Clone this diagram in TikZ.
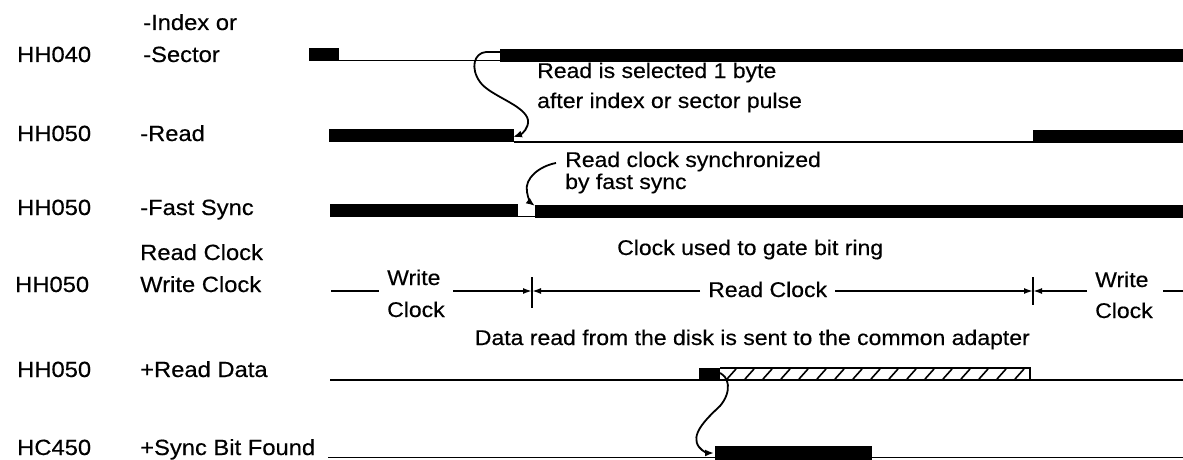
\documentclass[tikz,border=0pt]{standalone}
\usepackage{fontspec}
\setmainfont[FakeStretch=1.08,FakeBold=0.4]{Liberation Sans}
\usetikzlibrary{arrows.meta}
\begin{document}
\begin{tikzpicture}[x=1pt,y=-1pt,
  lbl/.style={anchor=base west,inner sep=0pt,font=\fontsize{22}{26}\selectfont},
  ann/.style={anchor=base west,inner sep=0pt,font=\fontsize{21.3}{25}\selectfont},
  sig/.style={line width=1.6pt},
  tickmark/.style={line width=2.2pt},
  curvearrow/.style={line width=1.8pt,-{Latex[length=9pt,width=7pt]}},
  clockarrow/.style={line width=1.6pt,-{Latex[length=9pt,width=6pt]}},
  hatchline/.style={line width=1.6pt}
]
\useasboundingbox (0,0) rectangle (1183,460);

% labels
\node[lbl] (c1) at (17,62) {HH040};
\node[lbl] (s1a) at (143,30) {-Index or};
\node[lbl] (s1b) at (143,62) {-Sector};
\node[lbl] (c2) at (17,141) {HH050};
\node[lbl] (s2) at (140,141) {-Read};
\node[lbl] (c3) at (17,215) {HH050};
\node[lbl] (s3) at (140,215) {-Fast Sync};
\node[lbl] (s4a) at (140,260) {Read Clock};
\node[lbl] (c4) at (15,292) {HH050};
\node[lbl] (s4b) at (140,292) {Write Clock};
\node[lbl] (c5) at (17,377) {HH050};
\node[lbl] (s5) at (140,377) {+Read Data};
\node[lbl] (c6) at (17,455) {HC450};
\node[lbl] (s6) at (140,455) {+Sync Bit Found};

% row 1: index / sector
\fill (309,48) rectangle (339,61);
\draw[sig] (339,60.5) -- (500,60.5);
\fill (500,49) rectangle (1183,62);
\node[ann] (a1) at (537,78) {Read is selected 1 byte};
\node[ann] (a1b) at (537,108) {after index or sector pulse};
\coordinate (p1s) at (500,52);
\coordinate (p1e) at (513,137);
\draw[curvearrow] (p1s) -- (486,52) .. controls (474,53) and (470,68) .. (480,82)
  .. controls (490,96) and (525,105) .. (528,120)
  .. controls (529,128) and (522,134) .. (p1e);

% row 2: read
\fill (329,129) rectangle (514,142);
\draw[sig] (514,142) -- (1033,142);
\fill (1033,130) rectangle (1183,143);

% row 3: fast sync
\fill (330,204) rectangle (518,217);
\draw[sig] (518,216.5) -- (535,216.5);
\fill (535,205) rectangle (1183,218);
\node[ann] (a3) at (565,167) {Read clock synchronized};
\node[ann] (a3b) at (565,189) {by fast sync};
\coordinate (p3s) at (556,163);
\coordinate (p3e) at (535,206);
\draw[curvearrow] (p3s) .. controls (540,166) and (524,178) .. (527,192)
  .. controls (528,199) and (531,203) .. (p3e);

% row 4: clock
\node[ann] (a4) at (617,255) {Clock used to gate bit ring};
\coordinate (t1) at (532,291);
\coordinate (t2) at (1033,291);
\draw[tickmark] (532,277) -- (532,308);
\draw[tickmark] (1033,277) -- (1033,305);
\draw[sig] (331,291) -- (379,291);
\node[ann] (w1a) at (387,285) {Write};
\node[ann] (w1b) at (387,317) {Clock};
\coordinate (l1) at (453,291);
\draw[clockarrow] (l1) -- (t1);
\coordinate (l2) at (700,291);
\draw[clockarrow] (l2) -- (t1);
\node[ann] (rc) at (708,297) {Read Clock};
\coordinate (l3) at (835,291);
\draw[clockarrow] (l3) -- (t2);
\coordinate (l4) at (1087,291);
\draw[clockarrow] (l4) -- (t2);
\node[ann] (w2a) at (1095,287) {Write};
\node[ann] (w2b) at (1095,318) {Clock};
\draw[sig] (1163,291) -- (1183,291);

% row 5: read data
\node[ann,anchor=base east] (a5) at (1030,345) {Data read from the disk is sent to the common adapter};
\draw[sig] (330,380) -- (1183,380);
\fill (699,368) rectangle (720,380);
\draw[sig] (720,368) -- (1030,368) -- (1030,380);
\foreach \x in {727,745,...,1020} \draw[hatchline] (\x,379) -- (\x+9,369);
\coordinate (p5s) at (717,372);
\coordinate (p5e) at (714,453);
\draw[curvearrow] (p5s) .. controls (730,375) and (732,392) .. (720,406)
  .. controls (705,420) and (690,435) .. (699,447)
  .. controls (703,452) and (708,453) .. (p5e);

% row 6: sync bit found
\draw[sig] (328,457.5) -- (1183,457.5);
\fill (715,446) rectangle (872,460);
\end{tikzpicture}
\end{document}
